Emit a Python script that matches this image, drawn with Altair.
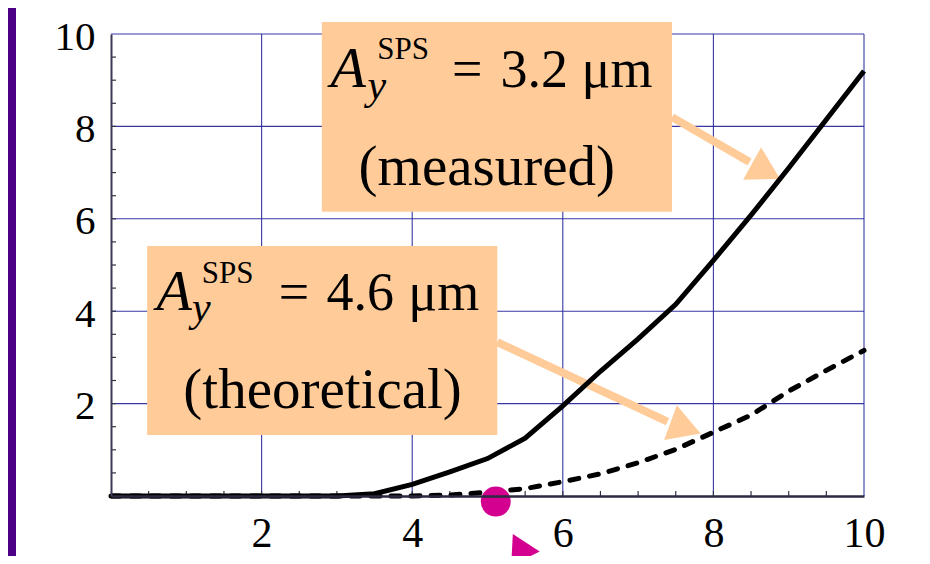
import altair as alt
import pandas as pd

# ---------------- data ----------------
x_vals = [0.0, 0.5, 1.0, 1.5, 2.0, 2.5, 3.0, 3.5, 4.0, 4.5, 5.0,
          5.5, 6.0, 6.5, 7.0, 7.5, 8.0, 8.5, 9.0, 9.5, 10.0]
measured = [0, 0, 0, 0, 0, 0, 0, 0.05, 0.25, 0.52, 0.81,
            1.25, 1.95, 2.7, 3.4, 4.15, 5.1, 6.08, 7.1, 8.15, 9.2]
theoretical = [0, 0, 0, 0, 0, 0, 0, 0, 0, 0.02, 0.08,
               0.16, 0.31, 0.48, 0.72, 1.01, 1.38, 1.75, 2.27, 2.72, 3.15]

major_ticks = [2, 4, 6, 8, 10]
minor_ticks = [0.5, 1, 1.5, 2, 2.5, 3, 3.5, 4, 4.5, 5, 5.5, 6, 6.5, 7, 7.5,
               8, 8.5, 9, 9.5]

# annotation boxes (data units)
box_x1 = [2.80, 0.48]
box_x2 = [7.45, 5.13]
box_y1 = [10.26, 5.41]
box_y2 = [6.15, 1.32]

# annotation text pieces
italic_text = ["A", "y", "A", "y"]
italic_x = [3.15, 3.53, 0.84, 1.20]
italic_y = [8.85, 8.60, 4.03, 3.79]
italic_size = [58, 42, 58, 42]

roman_text = ["SPS", "=", "3.2", "μm", "(measured)",
              "SPS", "=", "4.6", "μm", "(theoretical)"]
roman_x = [3.88, 4.73, 5.62, 6.72, 4.99, 1.55, 2.43, 3.31, 4.42, 2.81]
roman_y = [9.46, 8.85, 8.85, 8.85, 6.73, 4.61, 4.03, 4.03, 4.03, 1.91]
roman_size = [31, 54, 54, 54, 57, 31, 54, 54, 54, 57]

# peach arrows
shaft_x1 = [7.45, 5.13]
shaft_y1 = [8.20, 3.33]
shaft_x2 = [8.48, 7.39]
shaft_y2 = [7.23, 1.61]
head_x = [8.70, 7.63]
head_y = [7.03, 1.47]
head_angle = [119, 110]
head_size = [1369, 1369]

# magenta marker and arrow
dot_x = [5.11]
dot_y = [-0.12]
mag_head_x = [5.42]
mag_head_y = [-1.09]
mag_head_angle = [333]
mag_head_size = [1024]
mag_shaft_x1 = [5.50]
mag_shaft_y1 = [-1.36]
mag_shaft_x2 = [5.76]
mag_shaft_y2 = [-2.21]

# ---------------- styling ----------------
PEACH = "#FFCC99"
MAGENTA = "#D4008F"
GRID = "#22229A"
SERIF = "Liberation Serif"
W, H = 753, 462

xscale = alt.Scale(domain=[0, 10], nice=False, zero=False)
yscale = alt.Scale(domain=[0, 10], nice=False, zero=False)
xaxis = alt.Axis(values=major_ticks, title=None, grid=False, ticks=False, tickSize=0,
                 labelFont=SERIF, labelFontSize=42, labelColor="black",
                 labelBaseline="alphabetic", labelPadding=50, labelFlush=False,
                 labelOverlap=False, domainColor="#2a2a40", domainWidth=2.5, zindex=1)
yaxis = alt.Axis(values=major_ticks, title=None, grid=False, ticks=False, tickSize=0,
                 labelFont=SERIF, labelFontSize=41, labelColor="black",
                 labelBaseline="alphabetic", labelOffset=15, labelPadding=16,
                 labelFlush=False, labelOverlap=False,
                 domainColor="#3a3a55", domainWidth=2, zindex=1)


def X(f):
    return alt.X(f"{f}:Q", scale=xscale, axis=xaxis)


def Y(f):
    return alt.Y(f"{f}:Q", scale=yscale, axis=yaxis)


one = pd.DataFrame({"k": [0]})

panel = alt.Chart(one).mark_rect(color="white").encode(
    x=alt.value(-95), x2=alt.value(811), y=alt.value(-26), y2=alt.value(522))

grid_x = alt.Chart(pd.DataFrame({"g": major_ticks})).mark_rule(
    color=GRID, strokeWidth=1.1, opacity=0.9).encode(
    x=X("g"), y=alt.value(0), y2=alt.value(H))
grid_y = alt.Chart(pd.DataFrame({"g": major_ticks})).mark_rule(
    color=GRID, strokeWidth=1.1, opacity=0.9).encode(
    y=Y("g"), x=alt.value(0), x2=alt.value(W))

ticks_x = alt.Chart(pd.DataFrame({"t": minor_ticks})).mark_rule(
    color="#333344", strokeWidth=1.2).encode(
    x=X("t"), y=alt.value(H), y2=alt.value(H - 5))
ticks_y = alt.Chart(pd.DataFrame({"t": minor_ticks})).mark_rule(
    color="#333344", strokeWidth=1.2).encode(
    y=Y("t"), x=alt.value(0), x2=alt.value(5))

boxes = alt.Chart(pd.DataFrame({"x1": box_x1, "x2": box_x2, "y1": box_y1, "y2": box_y2})
                  ).mark_rect(color=PEACH, opacity=1).encode(
    x=X("x1"), x2="x2", y=Y("y1"), y2="y2")

txt_it = alt.Chart(pd.DataFrame({"x": italic_x, "y": italic_y, "t": italic_text,
                                 "s": italic_size})).mark_text(
    font=SERIF, fontStyle="italic", align="center", baseline="alphabetic",
    color="black").encode(x=X("x"), y=Y("y"), text="t:N",
                          size=alt.Size("s:Q", scale=None))
txt_rm = alt.Chart(pd.DataFrame({"x": roman_x, "y": roman_y, "t": roman_text,
                                 "s": roman_size})).mark_text(
    font=SERIF, align="center", baseline="alphabetic",
    color="black").encode(x=X("x"), y=Y("y"), text="t:N",
                          size=alt.Size("s:Q", scale=None))

shafts = alt.Chart(pd.DataFrame({"x1": shaft_x1, "y1": shaft_y1, "x2": shaft_x2,
                                 "y2": shaft_y2})).mark_rule(
    color=PEACH, strokeWidth=8).encode(x=X("x1"), y=Y("y1"), x2="x2", y2="y2")
heads = alt.Chart(pd.DataFrame({"x": head_x, "y": head_y, "a": head_angle,
                                "s": head_size})).mark_point(
    shape="triangle-up", filled=True, color=PEACH, opacity=1, strokeWidth=0).encode(
    x=X("x"), y=Y("y"), angle=alt.Angle("a:Q", scale=None),
    size=alt.Size("s:Q", scale=None))

curves = pd.DataFrame({"x": x_vals, "m": measured, "t": theoretical})
solid = alt.Chart(curves).mark_line(color="black", strokeWidth=5).encode(
    x=X("x"), y=Y("m"))
dashed = alt.Chart(curves).mark_line(color="black", strokeWidth=5,
                                     strokeDash=[9, 11], strokeCap="round").encode(
    x=X("x"), y=Y("t"))

dot = alt.Chart(pd.DataFrame({"x": dot_x, "y": dot_y})).mark_circle(
    color=MAGENTA, size=900, opacity=1).encode(x=X("x"), y=Y("y"))
mag_shaft = alt.Chart(pd.DataFrame({"x1": mag_shaft_x1, "y1": mag_shaft_y1,
                                    "x2": mag_shaft_x2, "y2": mag_shaft_y2})).mark_rule(
    color=MAGENTA, strokeWidth=8).encode(x=X("x1"), y=Y("y1"), x2="x2", y2="y2")
mag_head = alt.Chart(pd.DataFrame({"x": mag_head_x, "y": mag_head_y, "a": mag_head_angle,
                                   "s": mag_head_size})).mark_point(
    shape="triangle-up", filled=True, color=MAGENTA, opacity=1, strokeWidth=0).encode(
    x=X("x"), y=Y("y"), angle=alt.Angle("a:Q", scale=None),
    size=alt.Size("s:Q", scale=None))

chart = alt.layer(
    panel, grid_x, grid_y, ticks_x, ticks_y, boxes, txt_it, txt_rm,
    shafts, heads, solid, dashed, dot, mag_shaft, mag_head
).properties(
    width=W, height=H,
    autosize=alt.AutoSizeParams(type="none"),
    padding={"left": 103, "top": 26, "right": 58, "bottom": 60},
    background="#4B0086",
).configure_view(stroke=None)

chart.save("out.html", embed_options={"renderer": "svg", "actions": False})
